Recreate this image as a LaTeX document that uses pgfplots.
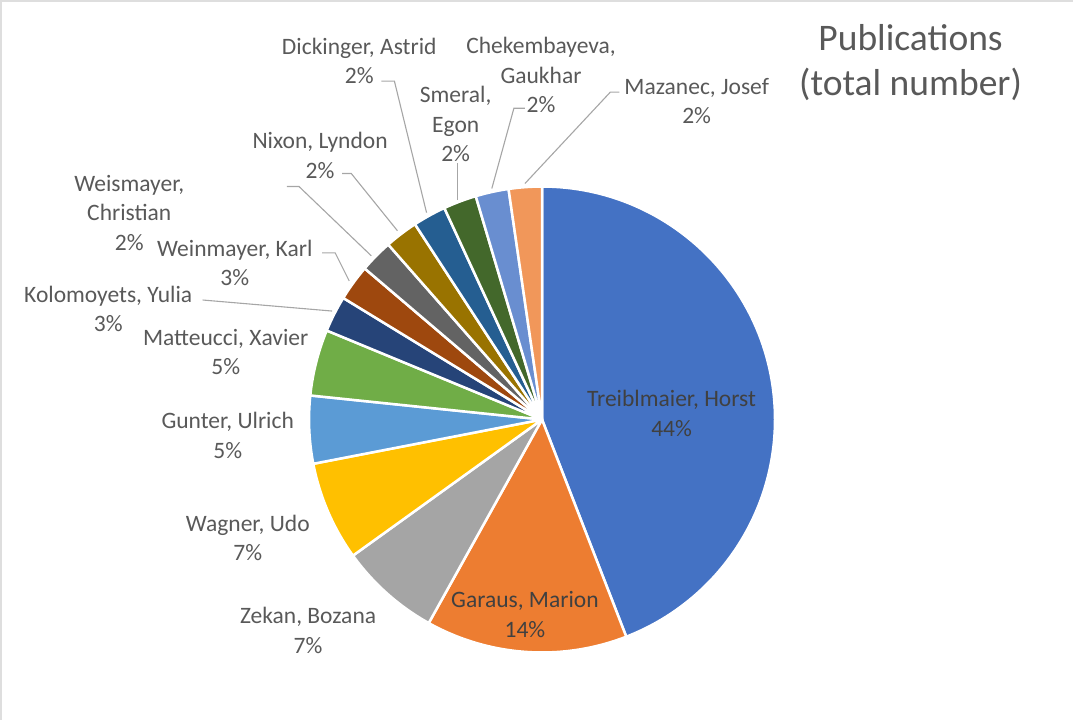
\documentclass[border=0pt]{standalone}
\usepackage{pgfplots}
\pgfplotsset{compat=1.18}
\usepackage{fontspec}
\setmainfont{Carlito}

\definecolor{c1}{HTML}{4472C4}
\definecolor{c2}{HTML}{ED7D31}
\definecolor{c3}{HTML}{A5A5A5}
\definecolor{c4}{HTML}{FFC000}
\definecolor{c5}{HTML}{5B9BD5}
\definecolor{c6}{HTML}{70AD47}
\definecolor{c7}{HTML}{264478}
\definecolor{c8}{HTML}{9E480E}
\definecolor{c9}{HTML}{636363}
\definecolor{c10}{HTML}{997300}
\definecolor{c11}{HTML}{255E91}
\definecolor{c12}{HTML}{43682B}
\definecolor{c13}{HTML}{698ED0}
\definecolor{c14}{HTML}{F1975A}
\definecolor{txt}{HTML}{595959}
\definecolor{txtin}{HTML}{404040}
\definecolor{lead}{HTML}{A6A6A6}

\tikzset{lbl/.style={font=\fontsize{23.5}{29.5}\selectfont, text=txt, align=center, inner sep=0pt}}

\begin{document}
\begin{tikzpicture}
\begin{axis}[
    x=1bp, y=1bp,
    xmin=0, xmax=1074, ymin=0, ymax=722,
    y dir=reverse,
    hide axis, clip=false,
]
% chart frame (only left and top edge visible)
\draw[color=black!13, line width=1.5bp] (axis cs:6,722) -- (axis cs:6,6) -- (axis cs:1074,6);

% slices, clockwise from 12 o'clock, values in percent
\foreach \v/\c [remember=\b as \a (initially 90)] in
  {44.2/c1, 14.0/c2, 7.0/c3, 6.9/c4, 4.7/c5, 4.6/c6, 2.5/c7,
   2.5/c8, 2.3/c9, 2.3/c10, 2.3/c11, 2.3/c12, 2.3/c13, 2.3/c14} {
  \pgfmathsetmacro\b{\a - 360*\v/100.2}
  \edef\temp{\noexpand\fill[\c, draw=white, line width=2.5bp, line join=round]
    (axis cs:545,423) -- ([shift={(\a:232bp)}]axis cs:545,423)
    arc[start angle=\a, end angle=\b, radius=232bp] -- cycle;}
  \temp
}

% leader lines
\draw[lead, line width=1.1bp] (axis cs:385,86) -- (axis cs:398,86) -- (axis cs:430,217);
\draw[lead, line width=1.1bp] (axis cs:461,168) -- (axis cs:461,204);
\draw[lead, line width=1.1bp] (axis cs:528,113) -- (axis cs:517,113) -- (axis cs:495,193);
\draw[lead, line width=1.1bp] (axis cs:622,97) -- (axis cs:613,97) -- (axis cs:528,188);
\draw[lead, line width=1.1bp] (axis cs:346,178) -- (axis cs:355,178) -- (axis cs:401,235);
\draw[lead, line width=1.1bp] (axis cs:291,191) -- (axis cs:303,191) -- (axis cs:375,260);
\draw[lead, line width=1.1bp] (axis cs:326,257) -- (axis cs:339,257) -- (axis cs:353,285);
\draw[lead, line width=1.1bp] (axis cs:207,304) -- (axis cs:336,315);

% data labels
\node[lbl, text=txtin] at (axis cs:674,417) {Treiblmaier, Horst\\44\%};
\node[lbl, text=txtin] at (axis cs:528,617) {Garaus, Marion\\14\%};
\node[lbl] at (axis cs:312,633) {Zekan, Bozana\\7\%};
\node[lbl] at (axis cs:252,541) {Wagner, Udo\\7\%};
\node[lbl] at (axis cs:232,439) {Gunter, Ulrich\\5\%};
\node[lbl] at (axis cs:230,356) {Matteucci, Xavier\\5\%};
\node[lbl] at (axis cs:113,313) {Kolomoyets, Yulia\\3\%};
\node[lbl] at (axis cs:239,267) {Weinmayer, Karl\\3\%};
\node[lbl] at (axis cs:134,217) {Weismayer,\\Christian\\2\%};
\node[lbl] at (axis cs:324,160) {Nixon, Lyndon\\2\%};
\node[lbl] at (axis cs:363,66) {Dickinger, Astrid\\2\%};
\node[lbl] at (axis cs:459,129) {Smeral,\\Egon\\2\%};
\node[lbl] at (axis cs:544,80) {Chekembayeva,\\Gaukhar\\2\%};
\node[lbl] at (axis cs:699,106) {Mazanec, Josef\\2\%};

% title
\node[font=\fontsize{37.5}{45}\selectfont, text=txt, align=center, inner sep=0pt]
  at (axis cs:912,68) {Publications\\(total number)};
\end{axis}
\end{tikzpicture}
\end{document}
